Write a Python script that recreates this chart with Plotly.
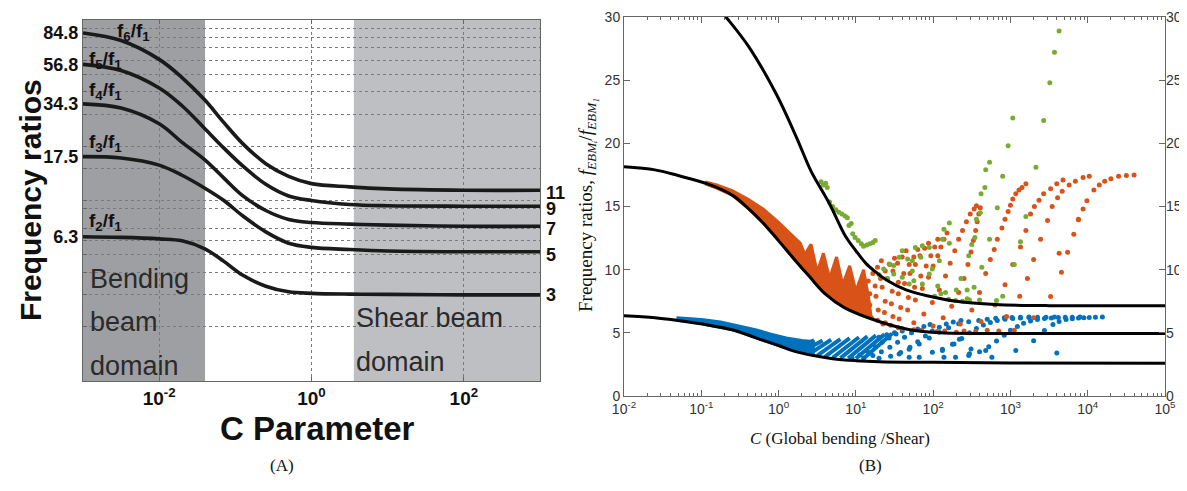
import numpy as np
import plotly.graph_objects as go

W, H = 1187, 491
OFF = 8                      # default page body margin in the browser
FW, FH = W - OFF, H - OFF    # figure size so that it fits the window exactly
SANS = "Liberation Sans, Arial, sans-serif"
SERIF = "Liberation Serif, DejaVu Serif, Times New Roman, serif"

# ---------------- Panel (A) data ----------------
A_LOG_C = [-3, -2.5, -2, -1.7, -1.4, -1.15, -0.9, -0.6, -0.3, 0, 0.5, 1, 2, 3]
A_F2 = [6.3, 6.25, 6.13, 5.98, 5.4, 4.6, 3.85, 3.35, 3.12, 3.06, 3.03, 3.02, 3.0, 3.0]
A_F3 = [17.5, 17.2, 15.7, 13.8, 11.7, 10.0, 8.2, 6.7, 5.8, 5.5, 5.35, 5.25, 5.2, 5.2]
A_F4 = [34.3, 32.5, 26.6, 21.0, 16.8, 13.3, 10.6, 8.8, 7.85, 7.55, 7.4, 7.3, 7.2, 7.2]
A_F5 = [56.8, 52.5, 42.0, 33.5, 25.0, 19.5, 15.5, 12.3, 10.6, 10.0, 9.5, 9.35, 9.3, 9.3]
A_F6 = [84.8, 77.0, 60.5, 48.0, 36.0, 27.0, 20.6, 16.0, 13.6, 12.4, 11.9, 11.6, 11.4, 11.4]
A_CURVE_LABELS = ["f<sub>2</sub>/f<sub>1</sub>", "f<sub>3</sub>/f<sub>1</sub>", "f<sub>4</sub>/f<sub>1</sub>",
                  "f<sub>5</sub>/f<sub>1</sub>", "f<sub>6</sub>/f<sub>1</sub>"]
A_LEFT_TICKS = [6.3, 17.5, 34.3, 56.8, 84.8]
A_RIGHT_TICKS = [3, 5, 7, 9, 11]
A_X_TICKS = [1e-2, 1, 1e2]
A_X_TICKTEXT = ["<b>10<sup>-2</sup></b>", "<b>10<sup>0</sup></b>", "<b>10<sup>2</sup></b>"]
A_GRID = [2, 3, 4, 5, 6, 7, 9, 10, 15, 20, 30, 40, 50, 60, 70, 80, 90]
BENDING_DOMAIN = [1e-3, 0.040]
SHEAR_DOMAIN = [3.6, 1e3]

# ---------------- Panel (B) data ----------------
B_TOP_LOGC = [-1.0, -0.68, -0.38, -0.03, 0.23, 0.42, 0.66, 0.87, 1.0, 1.13, 1.26, 1.39, 1.65, 1.95, 2.3, 2.8, 3.5, 5.0]
B_TOP = [32.3, 30.0, 27.6, 23.9, 20.5, 17.8, 15.2, 12.6, 11.5, 10.5, 9.8, 9.2, 8.4, 7.9, 7.5, 7.25, 7.15, 7.15]
B_MID_LOGC = [-2, -1.6, -1.3, -0.9, -0.6, -0.4, -0.2, 0, 0.2, 0.4, 0.6, 0.85, 1.3, 1.7, 2.1, 3, 5]
B_MID = [18.15, 17.9, 17.45, 16.75, 15.9, 14.9, 13.7, 12.3, 10.85, 9.45, 8.1, 7.0, 5.9, 5.25, 5.0, 4.95, 4.95]
B_BOT_LOGC = [-2, -1.6, -1.3, -0.9, -0.6, -0.4, -0.2, 0, 0.2, 0.45, 0.7, 1.0, 1.3, 2, 3, 5]
B_BOT = [6.36, 6.2, 5.97, 5.6, 5.25, 4.85, 4.4, 4.0, 3.55, 3.2, 2.95, 2.8, 2.72, 2.67, 2.62, 2.6]

B_X_TICKS = [1e-2, 1e-1, 1e0, 1e1, 1e2, 1e3, 1e4, 1e5]
B_X_TICKTEXT = ["10<sup>-2</sup>", "10<sup>-1</sup>", "10<sup>0</sup>", "10<sup>1</sup>",
                "10<sup>2</sup>", "10<sup>3</sup>", "10<sup>4</sup>", "10<sup>5</sup>"]
B_Y_TICKS = [0, 5, 10, 15, 20, 25, 30]

# dense blue band (log10 C, ratio)
BLUE_BAND_UPPER = [(-1.32, 6.2), (-1.15, 6.13), (-1.0, 6.05), (-0.75, 5.85), (-0.5, 5.55), (-0.3, 5.25),
                   (-0.1, 4.9), (0.1, 4.6), (0.3, 4.4), (0.45, 4.3)]
BLUE_BAND_LOWER = [(0.45, 3.25), (0.2, 3.6), (0.0, 4.0), (-0.2, 4.4), (-0.4, 4.85), (-0.6, 5.25),
                   (-0.9, 5.6), (-1.1, 5.85), (-1.32, 6.0)]
BLUE_SPIKES = [[(0.2, 3.75), (0.46, 4.4)], [(0.3, 3.5), (0.57, 4.4)], [(0.4, 3.33), (0.68, 4.45)],
               [(0.5, 3.2), (0.8, 4.5)], [(0.6, 3.1), (0.92, 4.58)], [(0.7, 3.03), (1.04, 4.65)],
               [(0.8, 3.0), (1.15, 4.72)], [(0.9, 2.98), (1.26, 4.8)], [(1.0, 2.97), (1.37, 4.88)],
               [(1.1, 2.96), (1.47, 4.95)]]
BLUE_ARCS = [
    [(0.95, 3.0), (1.05, 3.25), (1.15, 3.55), (1.25, 3.9), (1.34, 4.25), (1.43, 4.6), (1.52, 4.9), (1.6, 5.15)],
    [(1.1, 3.0), (1.22, 3.2), (1.33, 3.5), (1.44, 3.85), (1.54, 4.25), (1.63, 4.65), (1.72, 5.0), (1.8, 5.3),
     (1.88, 5.5), (1.96, 5.65)],
    [(1.3, 2.98), (1.45, 3.15), (1.58, 3.45), (1.7, 3.85), (1.8, 4.3), (1.9, 4.75), (1.99, 5.15), (2.08, 5.45),
     (2.17, 5.7), (2.26, 5.85), (2.36, 5.97)],
    [(1.56, 3.33), (1.69, 3.7), (1.82, 4.12), (1.95, 4.6), (2.08, 5.05), (2.2, 5.4), (2.33, 5.71), (2.46, 5.88),
     (2.59, 5.98), (2.7, 6.08), (2.81, 6.15), (2.92, 6.2), (3.02, 6.22), (3.13, 6.24), (3.24, 6.25)],
    [(1.69, 3.07), (1.99, 3.47), (2.12, 3.7), (2.25, 4.1), (2.37, 4.55), (2.47, 5.0), (2.56, 5.35), (2.65, 5.62),
     (2.74, 5.82), (2.83, 5.97), (2.93, 6.07), (3.03, 6.13), (3.13, 6.18), (3.24, 6.21), (3.35, 6.23),
     (3.46, 6.24), (3.57, 6.25)],
    [(2.29, 3.07), (2.46, 3.2), (2.6, 3.5), (2.72, 3.9), (2.82, 4.35), (2.92, 4.8), (3.0, 5.2), (3.09, 5.5),
     (3.17, 5.75), (3.26, 5.93), (3.35, 6.05), (3.44, 6.13), (3.53, 6.18), (3.62, 6.21), (3.71, 6.23),
     (3.8, 6.24), (3.9, 6.25)],
    [(2.76, 3.07), (3.07, 3.6), (3.3, 4.38), (3.44, 5.18), (3.55, 5.65), (3.63, 5.9), (3.72, 6.05), (3.8, 6.12),
     (3.88, 6.17), (3.95, 6.2), (4.02, 6.22), (4.1, 6.23), (4.19, 6.25)],
    [(1.82, 3.07), (2.14, 3.07), (2.49, 3.73), (2.68, 3.6), (2.12, 3.6), (2.47, 3.34), (1.3, 4.65),
     (1.4, 4.85), (1.5, 5.0), (2.27, 4.12), (2.34, 4.5), (3.6, 3.4)],
]

# dense orange band with its saw-tooth strands
ORANGE_BAND_UPPER = [(-0.95, 16.95), (-0.8, 16.7), (-0.6, 16.25), (-0.4, 15.6), (-0.2, 14.8), (0.0, 13.75),
                     (0.15, 12.85), (0.28, 12.1), (0.34, 11.2), (0.42, 12.0), (0.5, 9.8), (0.58, 11.3),
                     (0.66, 9.3), (0.75, 11.0), (0.83, 8.8), (0.92, 10.3), (1.0, 8.3), (1.1, 10.0), (1.17, 7.6)]
ORANGE_BAND_LOWER = [(1.2, 6.1), (1.0, 6.75), (0.8, 7.35), (0.6, 8.1), (0.4, 9.45), (0.2, 10.85), (0.0, 12.3),
                     (-0.2, 13.7), (-0.4, 14.9), (-0.6, 15.9), (-0.8, 16.45), (-0.95, 16.8)]
ORANGE_ARCS = [
    [(0.95, 7.3), (1.02, 7.9), (1.09, 8.5), (1.16, 9.1), (1.22, 9.7), (1.28, 10.2), (1.33, 10.7)],
    [(1.02, 6.9), (1.1, 7.5), (1.18, 8.1), (1.25, 8.7), (1.32, 9.3), (1.38, 9.9), (1.44, 10.4), (1.5, 10.9)],
    [(1.1, 6.6), (1.18, 7.2), (1.26, 7.9), (1.34, 8.6), (1.41, 9.3), (1.48, 9.9), (1.54, 10.5), (1.6, 11.0),
     (1.65, 11.5)],
    [(1.2, 6.2), (1.29, 6.8), (1.38, 7.5), (1.47, 8.3), (1.55, 9.0), (1.62, 9.7), (1.69, 10.4), (1.75, 11.0),
     (1.8, 11.6)],
    [(1.28, 6.0), (1.37, 6.6), (1.46, 7.3), (1.55, 8.1), (1.63, 8.9), (1.7, 9.7), (1.77, 10.4), (1.83, 11.1),
     (1.89, 11.7), (1.94, 12.1)],
    [(1.38, 5.8), (1.48, 6.3), (1.58, 7.0), (1.68, 7.8), (1.76, 8.6), (1.84, 9.5), (1.91, 10.3), (1.97, 11.1),
     (2.02, 11.8), (2.06, 12.4)],
    [(1.45, 5.6), (1.56, 6.1), (1.67, 6.8), (1.77, 7.6), (1.86, 8.5), (1.94, 9.4), (2.0, 10.3), (2.06, 11.1),
     (2.1, 11.8), (2.14, 12.4), (2.18, 12.9)],
    [(1.6, 5.35), (1.75, 5.8), (1.88, 6.5), (1.99, 7.4), (2.08, 8.4), (2.16, 9.5), (2.22, 10.5), (2.28, 11.5),
     (2.33, 12.4), (2.38, 13.1), (2.43, 13.8), (2.48, 14.4), (2.53, 14.8), (2.56, 15.05)],
    [(1.85, 5.2), (2.0, 5.55), (2.13, 6.2), (2.24, 7.1), (2.33, 8.2), (2.4, 9.3), (2.45, 10.4), (2.49, 11.4),
     (2.52, 12.3), (2.55, 13.1), (2.57, 13.8), (2.59, 14.4), (2.61, 14.9)],
    [(2.15, 5.15), (2.35, 5.7), (2.5, 6.8), (2.6, 8.2), (2.68, 9.7), (2.74, 10.8), (2.79, 11.6), (2.83, 12.4),
     (2.89, 13.3), (2.93, 14.0), (2.97, 14.6), (3.0, 15.1), (3.03, 15.6), (3.07, 16.0), (3.11, 16.3),
     (3.15, 16.5), (3.2, 16.8)],
    [(2.4, 5.15), (2.62, 5.9), (2.8, 7.2), (2.93, 8.8), (3.03, 10.4), (3.13, 11.8), (3.2, 13.1), (3.26, 14.4),
     (3.31, 15.0), (3.37, 15.5), (3.43, 16.0), (3.52, 16.4), (3.6, 16.8), (3.68, 17.1)],
    [(2.7, 5.2), (2.95, 6.3), (3.12, 7.9), (3.22, 9.3), (3.3, 10.8), (3.39, 12.4), (3.48, 13.9), (3.54, 15.0),
     (3.61, 15.7), (3.67, 16.2), (3.76, 16.7), (3.84, 17.0), (3.94, 17.3), (4.02, 17.4)],
    [(3.05, 5.2), (3.3, 6.2), (3.52, 7.87), (3.66, 9.8), (3.74, 11.37), (3.82, 12.8), (3.88, 13.95),
     (3.94, 14.8), (3.99, 15.45), (4.08, 16.3), (4.15, 16.7), (4.22, 17.0), (4.3, 17.2), (4.4, 17.4),
     (4.5, 17.45), (4.6, 17.5)],
    [(1.35, 5.7), (1.55, 5.4), (1.75, 5.25), (2.05, 5.1), (2.3, 5.05), (2.55, 5.1), (2.85, 5.15), (3.88, 14.0),
     (3.63, 11.3)],
]

GREEN_POINTS = [
    (0.55, 16.95), (0.58, 16.7), (0.61, 16.85), (0.63, 16.5), (0.66, 15.35), (0.7, 15.0), (0.74, 14.75),
    (0.78, 14.55), (0.82, 14.4), (0.86, 14.25), (0.89, 14.1), (0.91, 13.5), (0.94, 13.65), (0.96, 12.85),
    (0.99, 12.55), (1.03, 12.3), (1.07, 12.05), (1.1, 11.85), (1.14, 11.95), (1.18, 12.05), (1.22, 12.15),
    (1.25, 12.3),
    (1.3, 9.6), (1.36, 10.06), (1.43, 10.45), (1.49, 10.32), (1.56, 10.98), (1.6, 11.5), (1.67, 10.85),
    (1.73, 10.7), (1.77, 11.76), (1.86, 11.9), (1.95, 11.76), (1.84, 10.98), (1.73, 9.9), (1.49, 9.66),
    (1.6, 9.4), (1.69, 8.87), (1.75, 9.13), (1.86, 8.87), (1.95, 9.66), (1.99, 10.06), (2.08, 10.7),
    (2.16, 8.2), (2.29, 7.55), (2.38, 7.5), (2.44, 7.7), (2.44, 8.4), (2.36, 9.3), (2.3, 8.4), (1.4, 9.3),
    (2.02, 7.9), (2.1, 8.1), (2.06, 8.7), (2.2, 7.65), (2.47, 7.6), (2.6, 7.6), (2.82, 7.55),
    (2.12, 12.4), (2.14, 13.2), (2.21, 13.7), (2.21, 12.1),
    (2.46, 11.1), (2.54, 12.55), (2.61, 14.5), (2.67, 16.5), (2.73, 18.5),
    (2.5, 12.0), (2.56, 14.0), (2.62, 16.0), (2.68, 17.9),
    (2.53, 8.6), (2.63, 10.2), (2.73, 12.4), (2.83, 14.9), (2.9, 17.4), (2.97, 19.8), (3.03, 22.0),
    (2.9, 7.9), (3.05, 10.4), (3.13, 12.2), (3.2, 14.2), (3.33, 18.1), (3.43, 21.8), (3.51, 24.8),
    (3.57, 27.2), (3.63, 28.9),
]

BLUE, ORANGE, GREEN = "#0072BD", "#D95319", "#77AC30"


def split(pairs):
    lc = np.array([p[0] for p in pairs], dtype=float)
    return list(10 ** lc), [p[1] for p in pairs]


fig = go.Figure()

# ---- Panel A: shaded domains (drawn below grid) ----
fig.add_shape(type="rect", xref="x", yref="y domain", x0=BENDING_DOMAIN[0], x1=BENDING_DOMAIN[1],
              y0=0, y1=1, fillcolor="#9e9fa3", line_width=0, layer="below")
fig.add_shape(type="rect", xref="x", yref="y domain", x0=SHEAR_DOMAIN[0], x1=SHEAR_DOMAIN[1],
              y0=0, y1=1, fillcolor="#bebfc3", line_width=0, layer="below")

a_c = list(10 ** np.array(A_LOG_C, dtype=float))
for ys in [A_F2, A_F3, A_F4, A_F5, A_F6]:
    fig.add_trace(go.Scatter(x=a_c, y=ys, mode="lines", line=dict(color="#1a1a1a", width=3.6, shape="spline"),
                             xaxis="x", yaxis="y", showlegend=False, hoverinfo="skip"))
fig.add_trace(go.Scatter(x=[], y=[], xaxis="x", yaxis="y2", showlegend=False))

# ---- Panel B: scatter data ----
bx, by = split(BLUE_BAND_UPPER + BLUE_BAND_LOWER)
fig.add_trace(go.Scatter(x=bx, y=by, mode="lines", fill="toself", fillcolor=BLUE,
                         line=dict(color=BLUE, width=3), xaxis="x2", yaxis="y3", showlegend=False))
sx, sy = [], []
for seg in BLUE_SPIKES:
    a, b = split(seg)
    sx += a + [None]
    sy += b + [None]
fig.add_trace(go.Scatter(x=sx, y=sy, mode="lines", line=dict(color=BLUE, width=4),
                         xaxis="x2", yaxis="y3", showlegend=False))
ax_, ay_ = split([p for arc in BLUE_ARCS for p in arc])
fig.add_trace(go.Scatter(x=ax_, y=ay_, mode="markers", marker=dict(color=BLUE, size=5),
                         xaxis="x2", yaxis="y3", showlegend=False))

ox, oy = split(ORANGE_BAND_UPPER + ORANGE_BAND_LOWER)
fig.add_trace(go.Scatter(x=ox, y=oy, mode="lines", fill="toself", fillcolor=ORANGE,
                         line=dict(color=ORANGE, width=3), xaxis="x2", yaxis="y3", showlegend=False))
ax_, ay_ = split([p for arc in ORANGE_ARCS for p in arc])
fig.add_trace(go.Scatter(x=ax_, y=ay_, mode="markers", marker=dict(color=ORANGE, size=5),
                         xaxis="x2", yaxis="y3", showlegend=False))
gx, gy = split(GREEN_POINTS)
fig.add_trace(go.Scatter(x=gx, y=gy, mode="markers", marker=dict(color=GREEN, size=5),
                         xaxis="x2", yaxis="y3", showlegend=False))

for lcs, vals in [(B_TOP_LOGC, B_TOP), (B_MID_LOGC, B_MID), (B_BOT_LOGC, B_BOT)]:
    fig.add_trace(go.Scatter(x=list(10 ** np.array(lcs, dtype=float)), y=vals, mode="lines",
                             line=dict(color="black", width=3, shape="spline"),
                             xaxis="x2", yaxis="y3", showlegend=False))
fig.add_trace(go.Scatter(x=[], y=[], xaxis="x2", yaxis="y4", showlegend=False))

B_MINOR = [m * 10.0 ** e for e in range(-2, 5) for m in range(2, 10)]


def px(p):
    return (p - OFF) / FW


def py(p):
    return 1 - (p - OFF) / FH


fig.update_layout(
    template="none",
    width=FW, height=FH, margin=dict(l=0, r=0, t=0, b=0, autoexpand=False),
    paper_bgcolor="white", plot_bgcolor="white", showlegend=False,
    xaxis=dict(domain=[px(83), px(540)], anchor="y", type="log", range=[-3, 3], automargin=False,
               tickmode="array", tickvals=A_X_TICKS, ticktext=A_X_TICKTEXT,
               tickfont=dict(family=SANS, size=19, color="#111"),
               showgrid=True, griddash="dot", gridcolor="#7a7a7a", gridwidth=1,
               showline=True, linecolor="#666", linewidth=1, mirror="ticks",
               ticks="inside", ticklen=4, tickcolor="#666", zeroline=False),
    yaxis=dict(domain=[py(381), py(20)], anchor="x", type="log", range=[0, 2], automargin=False,
               tickmode="array", tickvals=A_LEFT_TICKS, ticktext=["<b>%s</b>" % v for v in A_LEFT_TICKS],
               tickfont=dict(family=SANS, size=18, color="#111"), ticks="", showgrid=False,
               showline=True, linecolor="#666", linewidth=1, mirror=True, zeroline=False,
               minor=dict(tickmode="array", tickvals=A_GRID, ticks="inside", ticklen=4, tickcolor="#666",
                          showgrid=True, gridcolor="#7a7a7a", griddash="dot", gridwidth=1)),
    yaxis2=dict(overlaying="y", anchor="x", side="right", type="log", range=[0, 2], automargin=False,
                tickmode="array", tickvals=A_RIGHT_TICKS, ticktext=["<b>%d</b>" % v for v in A_RIGHT_TICKS],
                tickfont=dict(family=SANS, size=18, color="#111"), ticks="", showgrid=False,
                ticklabelstandoff=5, showline=False, zeroline=False),
    xaxis2=dict(domain=[px(624), px(1165)], anchor="y3", type="log", range=[-2, 5], automargin=False,
                tickmode="array", tickvals=B_X_TICKS, ticktext=B_X_TICKTEXT,
                tickfont=dict(family=SANS, size=14, color="#333"),
                showgrid=False, showline=True, linecolor="#666", linewidth=1, mirror="ticks",
                ticks="inside", ticklen=6, tickcolor="#666", zeroline=False,
                minor=dict(tickmode="array", tickvals=B_MINOR, ticks="inside", ticklen=3, tickcolor="#666",
                           showgrid=False)),
    yaxis3=dict(domain=[py(396), py(17)], anchor="x2", range=[0, 30], automargin=False,
                tickmode="array", tickvals=B_Y_TICKS, tickfont=dict(family=SANS, size=14, color="#333"),
                showgrid=False, showline=True, linecolor="#666", linewidth=1, mirror=True,
                ticks="inside", ticklen=6, tickcolor="#666", zeroline=False),
    yaxis4=dict(overlaying="y3", anchor="x2", side="right", range=[0, 30], automargin=False,
                tickmode="array", tickvals=B_Y_TICKS, tickfont=dict(family=SANS, size=14, color="#333"),
                showgrid=False, showline=False, ticks="inside", ticklen=6, tickcolor="#666", zeroline=False),
)

ann = []


def text(t, x, y, size, family=SANS, color="#111", xanchor="center", yanchor="middle", angle=0):
    ann.append(dict(text=t, x=px(x), y=py(y), xref="paper", yref="paper", showarrow=False,
                    font=dict(family=family, size=size, color=color), xanchor=xanchor, yanchor=yanchor,
                    textangle=angle))


# Panel A texts
text("<b>Frequency ratios</b>", 30, 200, 30, angle=-90)
text("<b>C Parameter</b>", 317, 428, 33)
label_pos = [(87, 222), (87, 143), (87, 91), (87, 60), (115, 32)]
for lab, (lx, ly) in zip(A_CURVE_LABELS, label_pos):
    text("<b>%s</b>" % lab, lx, ly, 19, xanchor="left")
for word, yy in [("Bending", 279), ("beam", 322), ("domain", 366)]:
    text(word, 88, yy, 27, color="#2a2a2a", xanchor="left")
for word, yy in [("Shear beam", 318), ("domain", 362)]:
    text(word, 354, yy, 27, color="#2a2a2a", xanchor="left")
text("(A)", 282, 465, 17, family=SERIF)

# Panel B texts
text("Frequency ratios, <i>f</i><sub><i>EBM\u1d62</i></sub>/<i>f</i><sub><i>EBM\u2081</i></sub>",
     587, 205, 19, family=SERIF, angle=-90)
text("<i>C</i> (Global bending /Shear)", 840, 438, 17, family=SERIF)
text("(B)", 870, 465, 17, family=SERIF)

fig.update_layout(annotations=ann)
fig.write_html("out.html")
